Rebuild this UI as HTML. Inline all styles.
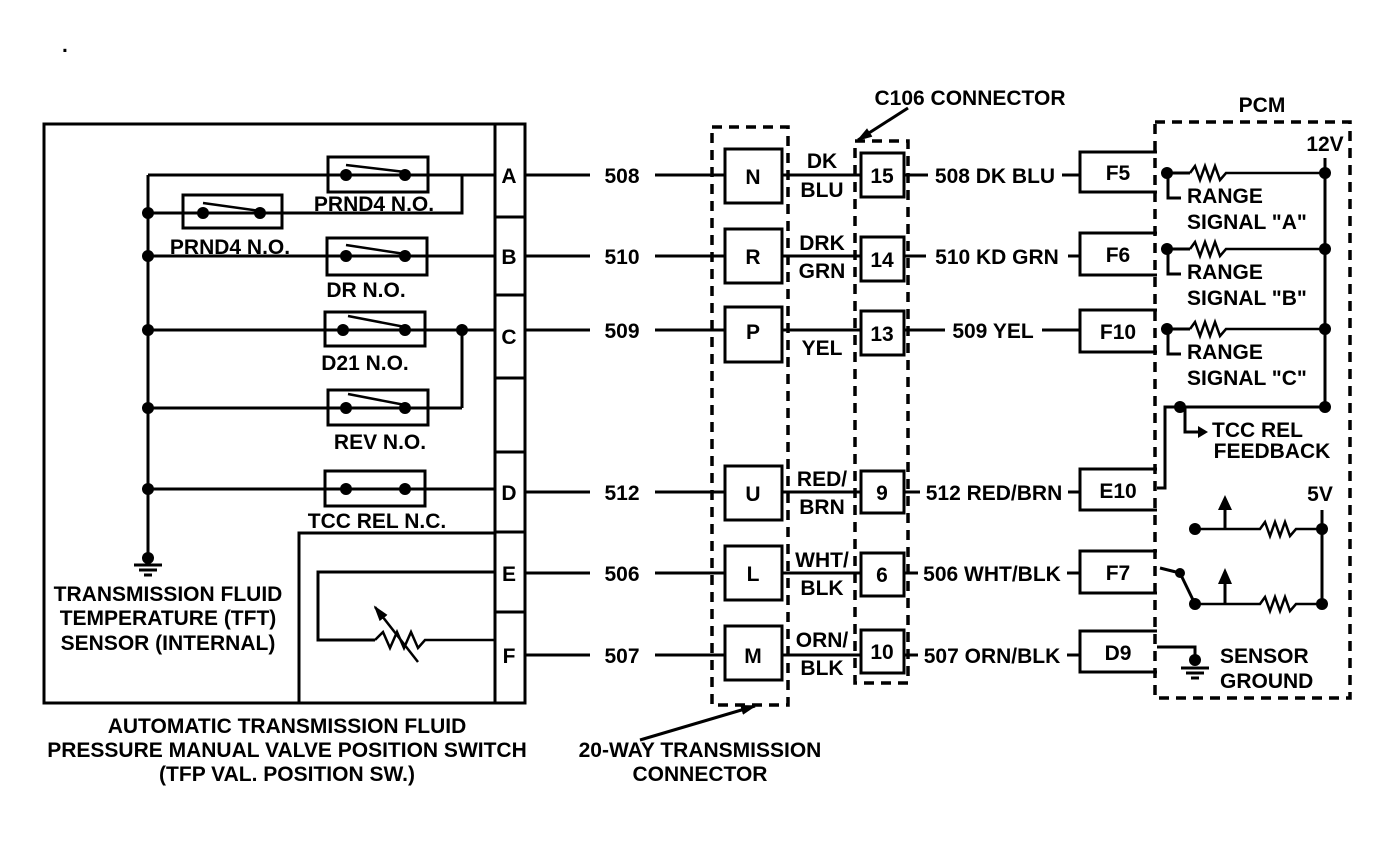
<!DOCTYPE html>
<html><head><meta charset="utf-8"><style>
html,body{margin:0;padding:0;background:#fff;}
svg{display:block;}
text{font-family:"Liberation Sans",Arial,sans-serif;font-weight:bold;font-size:21px;fill:#000;}
</style></head><body>
<svg width="1392" height="844" viewBox="0 0 1392 844" xmlns="http://www.w3.org/2000/svg">
<defs>
<marker id="ah" markerWidth="16" markerHeight="12" refX="14" refY="6" orient="auto" markerUnits="userSpaceOnUse" viewBox="0 0 16 12"><path d="M0,1 L16,6 L0,11 z" fill="#000"/></marker>
</defs>
<g stroke="#000" stroke-width="3" fill="none">
<rect x="44" y="124" width="481" height="579"/>
<line x1="495" y1="124" x2="495" y2="703"/>
<line x1="495" y1="217" x2="525" y2="217"/>
<line x1="495" y1="295" x2="525" y2="295"/>
<line x1="495" y1="378" x2="525" y2="378"/>
<line x1="495" y1="452" x2="525" y2="452"/>
<line x1="495" y1="532" x2="525" y2="532"/>
<line x1="495" y1="612" x2="525" y2="612"/>
<line x1="148" y1="175" x2="148" y2="558"/>
<line x1="148" y1="175" x2="495" y2="175"/>
<rect x="328" y="157" width="100" height="35"/>
<line x1="346" y1="165" x2="405" y2="172" stroke-width="2.5"/>
<polyline points="148,213 462,213 462,175"/>
<rect x="183" y="195" width="99" height="33"/>
<line x1="203" y1="203" x2="260" y2="211" stroke-width="2.5"/>
<line x1="148" y1="256" x2="495" y2="256"/>
<rect x="327" y="238" width="100" height="37"/>
<line x1="346" y1="245" x2="405" y2="254" stroke-width="2.5"/>
<line x1="148" y1="330" x2="495" y2="330"/>
<rect x="325" y="312" width="100" height="34"/>
<line x1="348" y1="316" x2="405" y2="327" stroke-width="2.5"/>
<line x1="462" y1="330" x2="462" y2="408"/>
<line x1="148" y1="408" x2="462" y2="408"/>
<rect x="328" y="390" width="100" height="35"/>
<line x1="348" y1="394" x2="405" y2="405" stroke-width="2.5"/>
<line x1="148" y1="489" x2="495" y2="489"/>
<rect x="325" y="471" width="100" height="35"/>
<polyline points="299,703 299,533 495,533"/>
<polyline points="495,572 318,572 318,640 375,640"/>
<polyline points="375,640 383,632 390,648 397,632 404,648 411,632 418,648 425,640 495,640" stroke-width="2.5"/>
<line x1="418" y1="662" x2="375" y2="607" stroke-width="2.5" marker-end="url(#ah)"/>
<line x1="134" y1="565" x2="162" y2="565"/>
<line x1="139" y1="570" x2="157" y2="570"/>
<line x1="144" y1="575" x2="152" y2="575"/>
<line x1="525" y1="175" x2="590" y2="175"/><line x1="655" y1="175" x2="725" y2="175"/>
<line x1="525" y1="256" x2="590" y2="256"/><line x1="655" y1="256" x2="725" y2="256"/>
<line x1="525" y1="330" x2="590" y2="330"/><line x1="655" y1="330" x2="725" y2="330"/>
<line x1="525" y1="492" x2="590" y2="492"/><line x1="655" y1="492" x2="725" y2="492"/>
<line x1="525" y1="573" x2="590" y2="573"/><line x1="655" y1="573" x2="725" y2="573"/>
<line x1="525" y1="655" x2="590" y2="655"/><line x1="655" y1="655" x2="725" y2="655"/>
<rect x="725" y="149" width="57" height="54"/>
<rect x="725" y="229" width="57" height="54"/>
<rect x="725" y="307" width="57" height="55"/>
<rect x="725" y="466" width="57" height="54"/>
<rect x="725" y="546" width="57" height="54"/>
<rect x="725" y="626" width="57" height="54"/>
<line x1="782" y1="175" x2="861" y2="175"/>
<line x1="782" y1="256" x2="861" y2="256"/>
<line x1="782" y1="330" x2="861" y2="330"/>
<line x1="782" y1="492" x2="861" y2="492"/>
<line x1="782" y1="573" x2="861" y2="573"/>
<line x1="782" y1="655" x2="861" y2="655"/>
<rect x="861" y="153" width="43" height="44"/>
<rect x="861" y="237" width="43" height="44"/>
<rect x="861" y="311" width="43" height="44"/>
<rect x="861" y="471" width="43" height="42"/>
<rect x="861" y="553" width="43" height="43"/>
<rect x="861" y="630" width="43" height="43"/>
<line x1="904" y1="175" x2="928" y2="175"/><line x1="1062" y1="175" x2="1080" y2="175"/>
<line x1="904" y1="256" x2="926" y2="256"/><line x1="1068" y1="256" x2="1080" y2="256"/>
<line x1="904" y1="330" x2="945" y2="330"/><line x1="1042" y1="330" x2="1080" y2="330"/>
<line x1="904" y1="492" x2="920" y2="492"/><line x1="1068" y1="492" x2="1080" y2="492"/>
<line x1="904" y1="573" x2="918" y2="573"/><line x1="1067" y1="573" x2="1080" y2="573"/>
<line x1="904" y1="655" x2="918" y2="655"/><line x1="1067" y1="655" x2="1080" y2="655"/>
<polyline points="1157,152 1080,152 1080,192 1157,192"/>
<polyline points="1157,233 1080,233 1080,275 1157,275"/>
<polyline points="1157,310 1080,310 1080,352 1157,352"/>
<polyline points="1157,469 1080,469 1080,510 1157,510"/>
<polyline points="1157,551 1080,551 1080,593 1157,593"/>
<polyline points="1157,631 1080,631 1080,672 1157,672"/>
<line x1="1325" y1="158" x2="1325" y2="408"/>
<line x1="1167" y1="173" x2="1190" y2="173"/><polyline points="1190,173 1195,166 1200,180 1205,166 1210,180 1215,166 1220,180 1226,173 1325,173" stroke-width="2.5"/>
<polyline points="1168,173 1168,198 1181,198"/>
<line x1="1167" y1="249" x2="1190" y2="249"/><polyline points="1190,249 1195,242 1200,256 1205,242 1210,256 1215,242 1220,256 1226,249 1325,249" stroke-width="2.5"/>
<polyline points="1168,249 1168,274 1181,274"/>
<line x1="1167" y1="329" x2="1190" y2="329"/><polyline points="1190,329 1195,322 1200,336 1205,322 1210,336 1215,322 1220,336 1226,329 1325,329" stroke-width="2.5"/>
<polyline points="1168,329 1168,354 1181,354"/>
<line x1="1180" y1="407" x2="1325" y2="407"/>
<polyline points="1157,488 1165,488 1165,407 1180,407"/>
<polyline points="1185,407 1185,432 1200,432"/>
<line x1="1322" y1="510" x2="1322" y2="604"/>
<polyline points="1195,529 1260,529 1265,522 1270,536 1275,522 1280,536 1285,522 1290,536 1296,529 1322,529" stroke-width="2.5"/>
<polyline points="1195,604 1260,604 1265,597 1270,611 1275,597 1280,611 1285,597 1290,611 1296,604 1322,604" stroke-width="2.5"/>
<line x1="1225" y1="529" x2="1225" y2="508"/>
<line x1="1225" y1="604" x2="1225" y2="582"/>
<line x1="1160" y1="568" x2="1180" y2="573"/>
<line x1="1180" y1="573" x2="1195" y2="604"/>
<polyline points="1157,647 1195,647 1195,660"/>
<line x1="1181" y1="668" x2="1209" y2="668"/>
<line x1="1186" y1="673" x2="1204" y2="673"/>
<line x1="1191" y1="678" x2="1199" y2="678"/>
<line x1="640" y1="740" x2="755" y2="706" stroke-width="3" marker-end="url(#ah)"/>
<line x1="908" y1="108" x2="858" y2="140" stroke-width="3" marker-end="url(#ah)"/>
</g>
<path d="M1218,510 L1225,495 L1232,510 z M1218,584 L1225,568 L1232,584 z M1198,426 L1208,432 L1198,438 z" fill="#000"/>
<g stroke="#000" stroke-width="3.5" fill="none" stroke-dasharray="10,7">
<rect x="712" y="127" width="76" height="578"/>
<rect x="855" y="141" width="53" height="542"/>
<rect x="1155" y="122" width="195" height="576"/>
</g>
<g fill="#000">
<circle cx="148" cy="213" r="6"/><circle cx="148" cy="256" r="6"/><circle cx="148" cy="330" r="6"/><circle cx="148" cy="408" r="6"/><circle cx="148" cy="489" r="6"/><circle cx="148" cy="558" r="6"/>
<circle cx="346" cy="175" r="6"/><circle cx="405" cy="175" r="6"/>
<circle cx="203" cy="213" r="6"/><circle cx="260" cy="213" r="6"/>
<circle cx="346" cy="256" r="6"/><circle cx="405" cy="256" r="6"/>
<circle cx="343" cy="330" r="6"/><circle cx="405" cy="330" r="6"/><circle cx="462" cy="330" r="6"/>
<circle cx="346" cy="408" r="6"/><circle cx="405" cy="408" r="6"/>
<circle cx="346" cy="489" r="6"/><circle cx="405" cy="489" r="6"/>
<circle cx="1167" cy="173" r="6"/><circle cx="1325" cy="173" r="6"/>
<circle cx="1167" cy="249" r="6"/><circle cx="1325" cy="249" r="6"/>
<circle cx="1167" cy="329" r="6"/><circle cx="1325" cy="329" r="6"/>
<circle cx="1180" cy="407" r="6"/><circle cx="1325" cy="407" r="6"/>
<circle cx="1195" cy="529" r="6"/><circle cx="1322" cy="529" r="6"/>
<circle cx="1195" cy="604" r="6"/><circle cx="1322" cy="604" r="6"/>
<circle cx="1180" cy="573" r="5"/><circle cx="1195" cy="660" r="6"/>
</g>
<g>
<text x="62" y="52" font-size="8">.</text>
<text x="509" y="183" text-anchor="middle">A</text>
<text x="509" y="264" text-anchor="middle">B</text>
<text x="509" y="344" text-anchor="middle">C</text>
<text x="509" y="500" text-anchor="middle">D</text>
<text x="509" y="581" text-anchor="middle">E</text>
<text x="509" y="663" text-anchor="middle">F</text>
<text x="374" y="211" text-anchor="middle">PRND4 N.O.</text>
<text x="230" y="254" text-anchor="middle">PRND4 N.O.</text>
<text x="366" y="297" text-anchor="middle">DR N.O.</text>
<text x="365" y="370" text-anchor="middle">D21 N.O.</text>
<text x="380" y="449" text-anchor="middle">REV N.O.</text>
<text x="377" y="528" text-anchor="middle">TCC REL N.C.</text>
<text x="168" y="601" text-anchor="middle">TRANSMISSION FLUID</text>
<text x="168" y="625" text-anchor="middle">TEMPERATURE (TFT)</text>
<text x="168" y="650" text-anchor="middle">SENSOR (INTERNAL)</text>
<text x="622" y="183" text-anchor="middle">508</text>
<text x="622" y="264" text-anchor="middle">510</text>
<text x="622" y="338" text-anchor="middle">509</text>
<text x="622" y="500" text-anchor="middle">512</text>
<text x="622" y="581" text-anchor="middle">506</text>
<text x="622" y="663" text-anchor="middle">507</text>
<text x="753" y="184" text-anchor="middle">N</text>
<text x="753" y="264" text-anchor="middle">R</text>
<text x="753" y="339" text-anchor="middle">P</text>
<text x="753" y="501" text-anchor="middle">U</text>
<text x="753" y="581" text-anchor="middle">L</text>
<text x="753" y="663" text-anchor="middle">M</text>
<text x="822" y="168" text-anchor="middle">DK</text><text x="822" y="197" text-anchor="middle">BLU</text>
<text x="822" y="250" text-anchor="middle">DRK</text><text x="822" y="278" text-anchor="middle">GRN</text>
<text x="822" y="355" text-anchor="middle">YEL</text>
<text x="822" y="486" text-anchor="middle">RED/</text><text x="822" y="514" text-anchor="middle">BRN</text>
<text x="822" y="567" text-anchor="middle">WHT/</text><text x="822" y="595" text-anchor="middle">BLK</text>
<text x="822" y="647" text-anchor="middle">ORN/</text><text x="822" y="675" text-anchor="middle">BLK</text>
<text x="882" y="183" text-anchor="middle">15</text>
<text x="882" y="267" text-anchor="middle">14</text>
<text x="882" y="341" text-anchor="middle">13</text>
<text x="882" y="500" text-anchor="middle">9</text>
<text x="882" y="582" text-anchor="middle">6</text>
<text x="882" y="659" text-anchor="middle">10</text>
<text x="995" y="183" text-anchor="middle">508 DK BLU</text>
<text x="997" y="264" text-anchor="middle">510 KD GRN</text>
<text x="993" y="338" text-anchor="middle">509 YEL</text>
<text x="994" y="500" text-anchor="middle">512 RED/BRN</text>
<text x="992" y="581" text-anchor="middle">506 WHT/BLK</text>
<text x="992" y="663" text-anchor="middle">507 ORN/BLK</text>
<text x="1118" y="180" text-anchor="middle">F5</text>
<text x="1118" y="262" text-anchor="middle">F6</text>
<text x="1118" y="339" text-anchor="middle">F10</text>
<text x="1118" y="498" text-anchor="middle">E10</text>
<text x="1118" y="580" text-anchor="middle">F7</text>
<text x="1118" y="660" text-anchor="middle">D9</text>
<text x="1262" y="112" text-anchor="middle">PCM</text>
<text x="1325" y="151" text-anchor="middle">12V</text>
<text x="1187" y="203">RANGE</text><text x="1187" y="229">SIGNAL "A"</text>
<text x="1187" y="279">RANGE</text><text x="1187" y="305">SIGNAL "B"</text>
<text x="1187" y="359">RANGE</text><text x="1187" y="385">SIGNAL "C"</text>
<text x="1212" y="437">TCC REL</text>
<text x="1272" y="458" text-anchor="middle">FEEDBACK</text>
<text x="1320" y="501" text-anchor="middle">5V</text>
<text x="1220" y="663">SENSOR</text>
<text x="1220" y="688">GROUND</text>
<text x="287" y="733" text-anchor="middle">AUTOMATIC TRANSMISSION FLUID</text>
<text x="287" y="757" text-anchor="middle">PRESSURE MANUAL VALVE POSITION SWITCH</text>
<text x="287" y="781" text-anchor="middle">(TFP VAL. POSITION SW.)</text>
<text x="700" y="757" text-anchor="middle">20-WAY TRANSMISSION</text>
<text x="700" y="781" text-anchor="middle">CONNECTOR</text>
<text x="970" y="105" text-anchor="middle">C106 CONNECTOR</text>
</g>
</svg>
</body></html>
